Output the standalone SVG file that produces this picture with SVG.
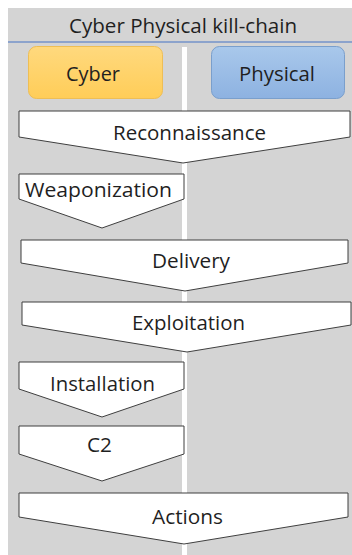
<svg xmlns="http://www.w3.org/2000/svg" width="352" height="555" viewBox="0 0 352 555">
  <defs>
    <linearGradient id="gCyber" x1="0" y1="0" x2="0" y2="1">
      <stop offset="0" stop-color="#FFD97E"/>
      <stop offset="1" stop-color="#FFCD58"/>
    </linearGradient>
    <linearGradient id="gPhys" x1="0" y1="0" x2="0" y2="1">
      <stop offset="0" stop-color="#A9C8EB"/>
      <stop offset="1" stop-color="#8DB2E1"/>
    </linearGradient>
  </defs>
  <style>
    text { font-family: "Open Sans", "Liberation Sans", sans-serif; fill: #1F1F1F; text-anchor: middle; }
    .lbl { font-size: 19.5px; }
    .stage { fill: #FFFFFF; stroke: #3F3F3F; stroke-width: 1; stroke-linejoin: miter; }
  </style>

  <!-- panel background -->
  <rect x="8" y="8" width="344" height="547" fill="#D4D4D4"/>
  <line x1="8" y1="42" x2="352" y2="42" stroke="#4472C4" stroke-width="1.2"/>
  <rect x="182" y="47" width="5" height="508" fill="#FFFFFF"/>

  <text class="lbl" x="183" y="33" textLength="228" lengthAdjust="spacingAndGlyphs">Cyber Physical kill-chain</text>

  <g id="cyber">
    <rect x="28.5" y="46.5" width="134" height="52" rx="8" fill="url(#gCyber)" stroke="#EEBE55" stroke-width="1"/>
    <text class="lbl" x="93" y="81" textLength="54" lengthAdjust="spacingAndGlyphs">Cyber</text>
  </g>
  <g id="physical">
    <rect x="211.5" y="46.5" width="133" height="52" rx="8" fill="url(#gPhys)" stroke="#7A9FCC" stroke-width="1"/>
    <text class="lbl" x="277" y="80.5" textLength="76" lengthAdjust="spacingAndGlyphs">Physical</text>
  </g>

  <g id="reconnaissance">
    <polygon class="stage" points="19,111 350,111 350,137 183,163 19,137"/>
    <text class="lbl" x="189.5" y="139.5" textLength="153" lengthAdjust="spacingAndGlyphs">Reconnaissance</text>
  </g>
  <g id="weaponization">
    <polygon class="stage" points="19,174 184,174 184,199 102,228 19,199"/>
    <text class="lbl" x="98.5" y="196.5" textLength="147" lengthAdjust="spacingAndGlyphs">Weaponization</text>
  </g>
  <g id="delivery">
    <polygon class="stage" points="21,240 348,240 348,263 185,291 21,263"/>
    <text class="lbl" x="191" y="268" textLength="78" lengthAdjust="spacingAndGlyphs">Delivery</text>
  </g>
  <g id="exploitation">
    <polygon class="stage" points="22,302 351,302 351,325 187,352 22,325"/>
    <text class="lbl" x="188.5" y="330" textLength="113" lengthAdjust="spacingAndGlyphs">Exploitation</text>
  </g>
  <g id="installation">
    <polygon class="stage" points="19,362 184,362 184,389 102,417 19,389"/>
    <text class="lbl" x="102.5" y="391" textLength="105" lengthAdjust="spacingAndGlyphs">Installation</text>
  </g>
  <g id="c2">
    <polygon class="stage" points="19,426 184,426 184,454 102,481 19,454"/>
    <text class="lbl" x="99.5" y="452" textLength="25" lengthAdjust="spacingAndGlyphs">C2</text>
  </g>
  <g id="actions">
    <polygon class="stage" points="19,493 348,493 348,517 184,544 19,517"/>
    <text class="lbl" x="187.5" y="524" textLength="71" lengthAdjust="spacingAndGlyphs">Actions</text>
  </g>

  <g id="connectors"></g>
</svg>
